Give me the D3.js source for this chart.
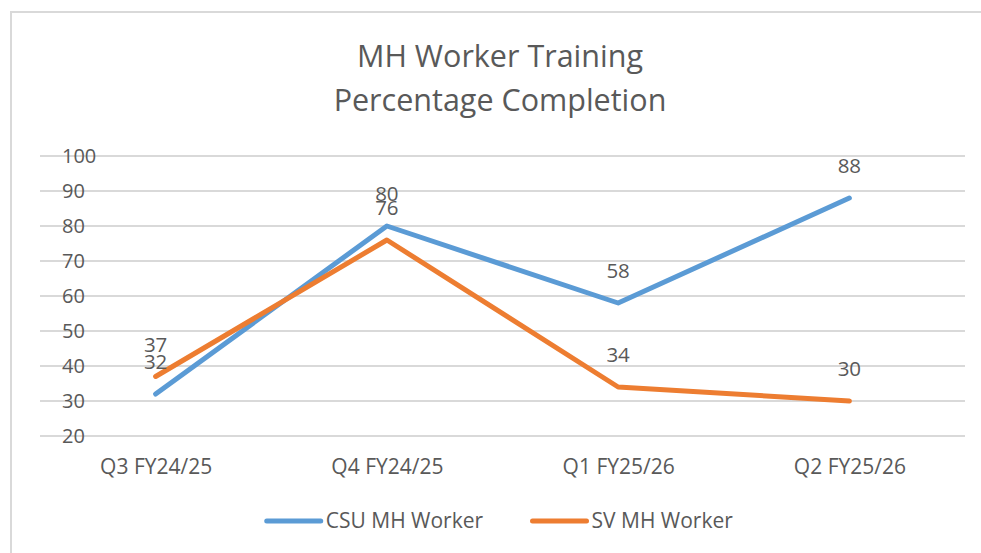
<!DOCTYPE html>
<html lang="en">
<head>
<meta charset="UTF-8">
<title>MH Worker Training</title>
<script src="https://cdn.jsdelivr.net/npm/d3@7"></script>
<style>
    body { margin: 0; background: #fff; }
    text { font-family: "Open Sans", sans-serif; fill: #595959; }
    .grid line { stroke: #d9d9d9; stroke-width: 2; shape-rendering: crispEdges; }
</style>
</head>
<body>
<script>
// data
var categories = ["Q3 FY24/25", "Q4 FY24/25", "Q1 FY25/26", "Q2 FY25/26"];
var csuValues = [32, 80, 58, 88];
var svValues = [37, 76, 34, 30];
var seriesNames = ["CSU MH Worker", "SV MH Worker"];
var seriesColors = ["#5b9bd5", "#ed7d31"];
var yTicks = [20, 30, 40, 50, 60, 70, 80, 90, 100];
var titleLines = ["MH Worker Training", "Percentage Completion"];

var width = 981, height = 553;
// plot area (note: "top" is reserved on window, so use prefixed names)
var plotLeft = 40, plotRight = 965, plotTop = 156, plotBottom = 436;

var svg = d3.select("body").append("svg")
    .attr("width", width)
    .attr("height", height);

// chart border (only top and left visible)
svg.append("path")
    .attr("d", "M11,553 V12 H981")
    .attr("fill", "none")
    .attr("stroke", "#d9d9d9")
    .attr("stroke-width", 2);

// title
svg.append("g").selectAll("text")
    .data(titleLines)
    .enter().append("text")
    .attr("x", 500)
    .attr("y", function(d, i) { return 67 + i * 44; })
    .attr("text-anchor", "middle")
    .style("font-size", "30.5px")
    .text(function(d) { return d; });

var x = d3.scalePoint()
    .domain(categories)
    .range([plotLeft, plotRight])
    .padding(0.5);

var y = d3.scaleLinear()
    .domain([20, 100])
    .range([plotBottom, plotTop]);

// gridlines
svg.append("g").attr("class", "grid")
    .selectAll("line")
    .data(yTicks)
    .enter().append("line")
    .attr("x1", plotLeft).attr("x2", plotRight)
    .attr("y1", function(d) { return Math.round(y(d)); })
    .attr("y2", function(d) { return Math.round(y(d)); });

// y axis labels, left aligned over the gridlines
var yAxis = d3.axisLeft(y).tickValues(yTicks).tickSize(0);
var yg = svg.append("g")
    .attr("transform", "translate(62,0)")
    .call(yAxis);
yg.select(".domain").remove();
yg.selectAll("text")
    .attr("x", 0)
    .attr("text-anchor", "start")
    .attr("fill", null)
    .attr("font-family", null)
    .style("font-size", "20px");
yg.attr("font-family", null).attr("font-size", null).attr("text-anchor", null);

// x axis labels
var xAxis = d3.axisBottom(x).tickSize(0);
var xg = svg.append("g")
    .attr("transform", "translate(0," + plotBottom + ")")
    .call(xAxis);
xg.select(".domain").remove();
xg.attr("font-family", null).attr("font-size", null);
xg.selectAll("text")
    .attr("y", 38)
    .attr("dy", null)
    .attr("fill", null)
    .style("font-size", "21px");

var series = [csuValues, svValues];
var line = d3.line()
    .x(function(d, i) { return x(categories[i]); })
    .y(function(d) { return y(d); });

series.forEach(function(vals, s) {
    svg.append("path")
        .datum(vals)
        .attr("d", line)
        .attr("fill", "none")
        .attr("stroke", seriesColors[s])
        .attr("stroke-width", 5)
        .attr("stroke-linejoin", "round")
        .attr("stroke-linecap", "round");
});

// data labels above points
series.forEach(function(vals, s) {
    svg.append("g").selectAll("text")
        .data(vals)
        .enter().append("text")
        .attr("x", function(d, i) { return x(categories[i]); })
        .attr("y", function(d) { return y(d) - 25; })
        .attr("text-anchor", "middle")
        .style("font-size", "20.5px")
        .text(function(d) { return d; });
});

// legend
var legend = svg.append("g");
var items = legend.selectAll("g")
    .data(seriesNames)
    .enter().append("g");
items.append("line")
    .attr("x1", 0).attr("x2", 54)
    .attr("y1", 0).attr("y2", 0)
    .attr("stroke", function(d, i) { return seriesColors[i]; })
    .attr("stroke-width", 5)
    .attr("stroke-linecap", "round");
items.append("text")
    .attr("x", 59)
    .attr("y", 7)
    .style("font-size", "21px")
    .text(function(d) { return d; });

var offset = 0;
items.each(function() {
    var w = this.getBBox().width;
    d3.select(this).attr("transform", "translate(" + offset + ",0)");
    offset += w + 49;
});
var total = offset - 49;
legend.attr("transform", "translate(" + (500 - total / 2) + ",521)");
</script>
</body>
</html>
